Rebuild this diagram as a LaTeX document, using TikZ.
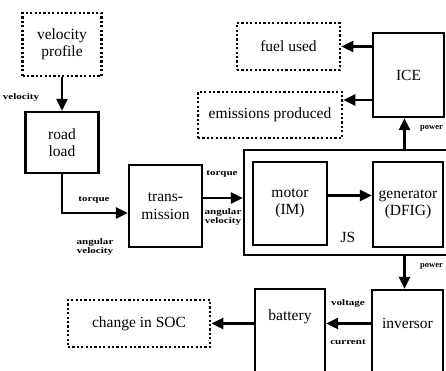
\documentclass[tikz,border=0pt]{standalone}
\usepackage{fontspec}
\setmainfont{Liberation Serif}
\usetikzlibrary{arrows.meta,positioning}
\newcommand{\lbl}[1]{\scalebox{1.3}[1]{#1}}

\begin{document}
\begin{tikzpicture}[x=1pt, y=-1pt,
  block/.style={draw, line width=2.4pt, align=center, inner sep=0pt,
                font=\fontsize{15.5}{17.5}\selectfont},
  dotbox/.style={block, line width=2.8pt, dash pattern=on 2.2pt off 2.2pt},
  txt/.style={align=center, inner sep=0pt, font=\fontsize{15.5}{17.5}\selectfont},
  sig/.style={align=center, inner sep=0pt, font=\fontsize{8.5}{9}\selectfont\bfseries},
  arrow/.style={-{Triangle[length=12pt,width=11pt]}, line width=2.4pt}
]
\useasboundingbox (0,0) rectangle (446,370);
\clip (0,0) rectangle (446,370);

\node[dotbox, minimum width=79pt, minimum height=63pt] (vprof) at (62,44.5) {velocity\\profile};
\node[block, minimum width=73pt, minimum height=61pt] (road) at (62,142.5) {road\\load};
\node[block, minimum width=73pt, minimum height=82pt] (trans) at (165.5,206) {trans-\\mission};
\node[block, minimum width=206pt, minimum height=105pt] (js) at (347,202.5) {};
\node[block, minimum width=74pt, minimum height=83pt] (motor) at (290,203.5) {motor\\(IM)};
\node[block, minimum width=70pt, minimum height=85pt] (gen) at (408,204.5) {generator\\(DFIG)};
\node[txt] (jslbl) at (348,237) {JS};
\node[block, minimum width=71pt, minimum height=84pt] (ice) at (408.5,75) {ICE};
\node[dotbox, minimum width=103pt, minimum height=47pt] (fuel) at (288.5,46.5) {fuel used};
\node[dotbox, minimum width=144pt, minimum height=46pt] (emis) at (270,115) {emissions produced};
\node[block, minimum width=71pt, minimum height=100pt] (inv) at (407.5,340) {};
\node[txt] (invtxt) at ([yshift=-35pt]inv.north) {inversor};
\node[block, minimum width=70pt, minimum height=100pt] (batt) at (290,339) {};
\node[txt] (batttxt) at ([yshift=-29pt]batt.north) {battery};
\node[dotbox, minimum width=142pt, minimum height=47pt] (soc) at (139,323.5) {change in SOC};

\node[sig] (vlbl) at (21,97) {\lbl{velocity}};
\node[sig] (tq1) at (94,200) {\lbl{torque}};
\node[sig] (av1) at (95,247) {\lbl{angular}\\\lbl{velocity}};
\node[sig] (tq2) at (222,174) {\lbl{torque}};
\node[sig] (av2) at (223,217) {\lbl{angular}\\\lbl{velocity}};
\node[sig, anchor=west] (pw1) at (420,128) {power};
\node[sig, anchor=west] (pw2) at (420,266) {power};
\node[sig] (volt) at (348,303) {\lbl{voltage}};
\node[sig] (curr) at (348,342) {\lbl{current}};

\draw[arrow] (vprof) -- (road);
\draw[arrow] (road.south) |- ([yshift=-7pt]trans.west);
\draw[arrow] ([yshift=8pt]trans.east) -- ([yshift=8pt]trans.east -| js.west);
\draw[arrow] ([yshift=8pt]motor.east) -- ([yshift=8pt]motor.east -| gen.west);
\draw[arrow] ([xshift=-4pt]ice.south |- js.north) -- ([xshift=-4pt]ice.south);
\draw[arrow] ([xshift=-4pt]ice.south |- js.south) -- ([xshift=-4pt]ice.south |- inv.north);
\draw[arrow] (ice.west |- fuel.east) -- (fuel.east);
\draw[arrow] ([yshift=15pt]emis.east -| ice.west) -- ([yshift=15pt]emis.east);
\draw[arrow] (inv.west |- soc.east) -- (batt.east |- soc.east);
\draw[arrow] (batt.west |- soc.east) -- (soc.east);
\end{tikzpicture}
\end{document}
